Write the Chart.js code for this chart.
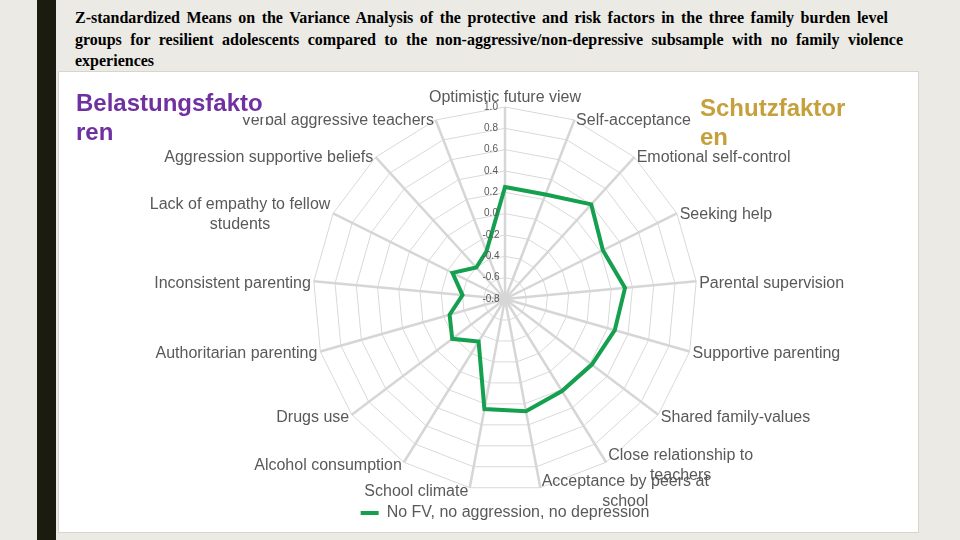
<!DOCTYPE html>
<html>
<head>
<meta charset="utf-8">
<script src="https://cdn.jsdelivr.net/npm/chart.js@4.4.0/dist/chart.umd.min.js"></script>
<style>
  html, body { margin: 0; padding: 0; }
  body { width: 960px; height: 540px; background: #ebeae4; position: relative; overflow: hidden; }
  .bar { position: absolute; left: 37px; top: 0; width: 19px; height: 540px; background: #1b1b10; }
  .title { position: absolute; left: 75px; top: 7px; font: bold 16px "Liberation Serif", "Times New Roman", serif; line-height: 21.5px; color: #000; white-space: nowrap; }
  .title div { text-align: justify; text-align-last: justify; }
  .title .last { text-align-last: left; }
  .panel { position: absolute; left: 58px; top: 71px; width: 859px; height: 460px; background: #fff; border: 1px solid #d6d6ce; }
  .chartBox { position: absolute; left: 58px; top: 71px; width: 860px; height: 461px; }
  .risk { position: absolute; left: 76px; top: 88px; width: 192px; height: 29px; background: #fff; z-index: 2;
          font: bold 24px "Liberation Sans", Arial, sans-serif; line-height: 29px; color: #7030a0; overflow: visible; }
  .protect { position: absolute; left: 700px; top: 93px; font: bold 24px "Liberation Sans", Arial, sans-serif; line-height: 29px; color: #c5a03c; z-index: 2; }
</style>
</head>
<body>
<div class="bar"></div>
<div class="title">
  <div style="width: 813px">Z-standardized Means on the Variance Analysis of the protective and risk factors in the three family burden level</div>
  <div style="width: 828px">groups for resilient adolescents compared to the non-aggressive/non-depressive subsample with no family violence</div>
  <div class="last">experiences</div>
</div>
<div class="panel"></div>
<div class="chartBox"><canvas id="radar"></canvas></div>
<div class="risk">Belastungsfakto<br>ren</div>
<div class="protect">Schutzfaktor<br>en</div>

<script>
const categories = [
  "Optimistic future view",
  "Self-acceptance",
  "Emotional self-control",
  "Seeking help",
  "Parental supervision",
  "Supportive parenting",
  "Shared family-values",
  ["Close relationship to", "teachers"],
  ["Acceptance by peers at", "school"],
  "School climate",
  "Alcohol consumption",
  "Drugs use",
  "Authoritarian parenting",
  "Inconsistent parenting",
  ["Lack of empathy to fellow", "students"],
  "Aggression supportive beliefs",
  "Verbal aggressive teachers"
];

const seriesName = "No FV, no aggression, no depression";
const seriesValues = [0.25, 0.25, 0.40, 0.225, 0.33, 0.27, 0.22, 0.215, 0.27, 0.25, -0.33, -0.18, -0.26, -0.40, -0.25, -0.40, -0.32];

const axisMin = -0.8;
const axisMax = 1.0;
const axisStep = 0.2;

const green = "#14a04f";
const labelFont = '"Liberation Sans", Arial, sans-serif';

// excel-like labels: ticks left of the top spoke, category names centred on spoke ends
const excelLabels = {
  id: "excelLabels",
  afterDraw(chart) {
    const s = chart.scales.r;
    const ctx = chart.ctx;
    ctx.save();
    ctx.fillStyle = "#595959";
    ctx.textBaseline = "middle";
    ctx.textAlign = "center";

    ctx.font = "10px " + labelFont;
    s.ticks.forEach((t) => {
      const d = s.getDistanceFromCenterForValue(t.value);
      ctx.fillText(t.value.toFixed(1), s.xCenter - 14, s.yCenter - d);
    });

    ctx.font = "16px " + labelFont;
    const n = categories.length;
    categories.forEach((lab, i) => {
      const lines = Array.isArray(lab) ? lab : [lab];
      const p = s.getPointPosition(i, s.drawingArea + 2);
      const deg = (i * 360) / n;
      const w = Math.max(...lines.map((l) => ctx.measureText(l).width));
      let cx = p.x;
      let cy = p.y + 2;
      if (deg === 0) cy = p.y - 7;
      else if (deg < 180) cx = p.x + 1 + w / 2;
      else cx = p.x - 1 - w / 2;
      lines.forEach((l, k) => {
        ctx.fillText(l, cx, cy + (k - (lines.length - 1) / 2) * 20);
      });
    });
    ctx.restore();
  },
};

const ctx = document.getElementById("radar").getContext("2d");
new Chart(ctx, {
  type: "radar",
  data: {
    labels: categories,
    datasets: [
      {
        label: seriesName,
        data: seriesValues,
        borderColor: green,
        backgroundColor: green,
        borderWidth: 4,
        pointRadius: 0,
        fill: false,
        tension: 0,
      },
    ],
  },
  options: {
    responsive: true,
    maintainAspectRatio: false,
    animation: false,
    layout: { padding: { left: 34, right: 0, top: 36, bottom: 1 } },
    scales: {
      r: {
        min: axisMin,
        max: axisMax,
        ticks: { stepSize: axisStep, display: false },
        grid: { color: "#d9d9d9", lineWidth: 1 },
        angleLines: { color: "#d6d6d6", lineWidth: 2.5 },
        pointLabels: { display: false },
      },
    },
    plugins: {
      tooltip: { enabled: false },
      legend: {
        position: "bottom",
        labels: {
          boxWidth: 18,
          boxHeight: 4,
          padding: 14,
          color: "#595959",
          font: { size: 16, family: labelFont },
          generateLabels: (chart) => {
            const items = Chart.defaults.plugins.legend.labels.generateLabels(chart);
            items.forEach((it) => {
              it.lineWidth = 0;
              it.fillStyle = green;
            });
            return items;
          },
        },
      },
    },
  },
  plugins: [excelLabels],
});
</script>
</body>
</html>
